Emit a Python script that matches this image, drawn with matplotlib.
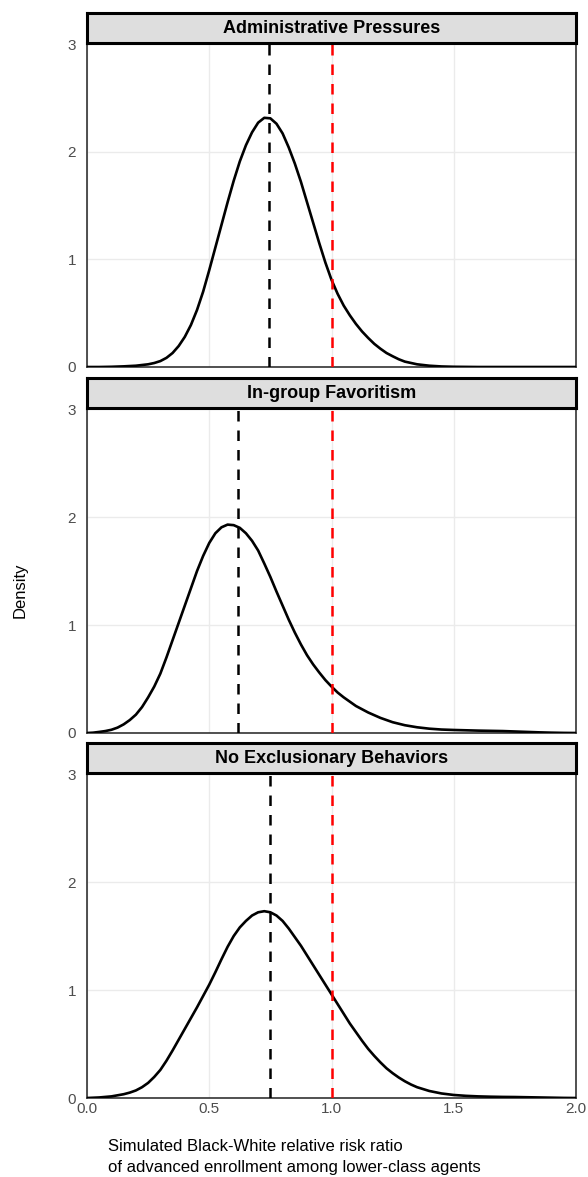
import matplotlib
matplotlib.use("Agg")
import matplotlib.pyplot as plt

plt.rcParams['font.family'] = ['Liberation Sans', 'DejaVu Sans']

panel_titles = ["Administrative Pressures", "In-group Favoritism", "No Exclusionary Behaviors"]

x_admin = [0.000, 0.050, 0.100, 0.150, 0.200, 0.250, 0.275, 0.300, 0.325, 0.350, 0.375, 0.400,
           0.425, 0.450, 0.475, 0.500, 0.525, 0.550, 0.575, 0.600, 0.625, 0.650, 0.675, 0.700,
           0.725, 0.750, 0.775, 0.800, 0.825, 0.850, 0.875, 0.900, 0.925, 0.950, 0.975, 1.000,
           1.025, 1.050, 1.075, 1.100, 1.125, 1.150, 1.175, 1.200, 1.225, 1.250, 1.275, 1.300,
           1.350, 1.400, 1.450, 1.500, 1.600, 1.700, 1.800, 1.900, 2.000]
y_admin = [0.000, 0.000, 0.002, 0.006, 0.012, 0.025, 0.037, 0.055, 0.085, 0.130, 0.195, 0.280,
           0.390, 0.530, 0.700, 0.900, 1.110, 1.320, 1.530, 1.730, 1.910, 2.060, 2.180, 2.270,
           2.315, 2.310, 2.260, 2.170, 2.040, 1.890, 1.720, 1.530, 1.340, 1.150, 0.970, 0.810,
           0.680, 0.570, 0.480, 0.400, 0.330, 0.270, 0.215, 0.170, 0.130, 0.100, 0.072, 0.050,
           0.025, 0.012, 0.005, 0.002, 0.000, 0.000, 0.000, 0.000, 0.000]

x_ingroup = [0.000, 0.025, 0.050, 0.075, 0.100, 0.125, 0.150, 0.175, 0.200, 0.225, 0.250, 0.275,
             0.300, 0.325, 0.350, 0.375, 0.400, 0.425, 0.450, 0.475, 0.500, 0.525, 0.550, 0.575,
             0.600, 0.625, 0.650, 0.675, 0.700, 0.725, 0.750, 0.775, 0.800, 0.825, 0.850, 0.875,
             0.900, 0.925, 0.950, 0.975, 1.000, 1.025, 1.050, 1.075, 1.100, 1.125, 1.150, 1.175,
             1.200, 1.250, 1.300, 1.350, 1.400, 1.450, 1.500, 1.550, 1.600, 1.650, 1.700, 1.750,
             1.800, 1.850, 1.900, 1.950, 2.000]
y_ingroup = [0.000, 0.003, 0.010, 0.018, 0.030, 0.050, 0.080, 0.120, 0.170, 0.240, 0.330, 0.430,
             0.550, 0.700, 0.860, 1.020, 1.180, 1.340, 1.500, 1.640, 1.760, 1.850, 1.905, 1.930,
             1.925, 1.900, 1.850, 1.780, 1.690, 1.570, 1.445, 1.310, 1.180, 1.050, 0.930, 0.820,
             0.720, 0.635, 0.560, 0.490, 0.430, 0.375, 0.330, 0.290, 0.250, 0.220, 0.190, 0.165,
             0.140, 0.100, 0.072, 0.053, 0.040, 0.032, 0.028, 0.025, 0.022, 0.020, 0.018, 0.014,
             0.010, 0.006, 0.003, 0.001, 0.000]

x_none = [0.000, 0.050, 0.100, 0.150, 0.175, 0.200, 0.225, 0.250, 0.275, 0.300, 0.325, 0.350,
          0.375, 0.400, 0.425, 0.450, 0.475, 0.500, 0.525, 0.550, 0.575, 0.600, 0.625, 0.650,
          0.675, 0.700, 0.725, 0.750, 0.775, 0.800, 0.825, 0.850, 0.875, 0.900, 0.925, 0.950,
          0.975, 1.000, 1.025, 1.050, 1.075, 1.100, 1.125, 1.150, 1.175, 1.200, 1.225, 1.250,
          1.275, 1.300, 1.325, 1.350, 1.400, 1.450, 1.500, 1.550, 1.600, 1.650, 1.700, 1.750,
          1.800, 1.850, 1.900, 1.950, 2.000]
y_none = [0.000, 0.005, 0.015, 0.035, 0.050, 0.070, 0.100, 0.140, 0.195, 0.260, 0.345, 0.440,
          0.540, 0.640, 0.740, 0.840, 0.945, 1.050, 1.165, 1.285, 1.400, 1.500, 1.580, 1.640,
          1.690, 1.720, 1.730, 1.720, 1.690, 1.640, 1.570, 1.490, 1.410, 1.320, 1.230, 1.140,
          1.050, 0.960, 0.870, 0.780, 0.690, 0.610, 0.530, 0.455, 0.390, 0.330, 0.275, 0.230,
          0.190, 0.155, 0.125, 0.100, 0.065, 0.042, 0.028, 0.020, 0.015, 0.012, 0.010, 0.009,
          0.007, 0.005, 0.003, 0.001, 0.000]

mean_lines = [0.743, 0.618, 0.747]
reference_line = 1.0

xs = [x_admin, x_ingroup, x_none]
ys = [y_admin, y_ingroup, y_none]

W, H = 588, 1177
fig = plt.figure(figsize=(W / 100, H / 100), dpi=100)

left_px, right_px = 87, 576
strips = [(13, 43, 367), (378, 408, 733), (743, 773, 1098)]

grid_col = "#EBEBEB"
tick_col = "#4D4D4D"

for i, (s_top, p_top, p_bot) in enumerate(strips):
    ax = fig.add_axes([left_px / W, 1 - p_bot / H, (right_px - left_px) / W, (p_bot - p_top) / H])
    ax.set_xlim(0, 2.0)
    ax.set_ylim(0, 3.01)
    ax.set_xticks([0.0, 0.5, 1.0, 1.5, 2.0])
    ax.set_yticks([0, 1, 2, 3])
    ax.grid(True, color=grid_col, linewidth=1.0)
    ax.set_axisbelow(True)
    ax.plot(xs[i], ys[i], color="black", linewidth=1.9, solid_joinstyle="round",
            solid_capstyle="round", zorder=3)
    ax.axvline(mean_lines[i], color="black", linewidth=1.8, linestyle=(0, (4.2, 3.6)), zorder=4)
    ax.axvline(reference_line, color="#FF0000", linewidth=1.8, linestyle=(0, (4.2, 3.6)), zorder=4)
    for sp in ax.spines.values():
        sp.set_color("#222222")
        sp.set_linewidth(1.1)
    ax.tick_params(axis="both", length=0, colors=tick_col, labelsize=11, pad=8)
    ax.set_yticklabels(["0", "1", "2", "3"])
    if i < 2:
        ax.set_xticklabels([])
    else:
        ax.set_xticklabels(["0.0", "0.5", "1.0", "1.5", "2.0"])
        ax.tick_params(axis="x", pad=3)

    # strip
    sax = fig.add_axes([left_px / W, 1 - p_top / H, (right_px - left_px) / W, (p_top - s_top) / H])
    sax.set_facecolor("#DEDEDE")
    sax.set_xticks([])
    sax.set_yticks([])
    for sp in sax.spines.values():
        sp.set_color("black")
        sp.set_linewidth(2.2)
    sax.text(0.5, 0.48, panel_titles[i], ha="center", va="center", fontsize=13,
             fontweight="bold", color="black", transform=sax.transAxes)

fig.text(294 / W, 1 - 1157 / H,
         "Simulated Black-White relative risk ratio\nof advanced enrollment among lower-class agents",
         ha="center", va="center", multialignment="left", fontsize=12, color="black",
         linespacing=1.45)
fig.text(20 / W, 1 - 590 / H, "Density", rotation=90, ha="center", va="center",
         fontsize=12, color="black")

fig.savefig("out.png", dpi=100, facecolor="white")
